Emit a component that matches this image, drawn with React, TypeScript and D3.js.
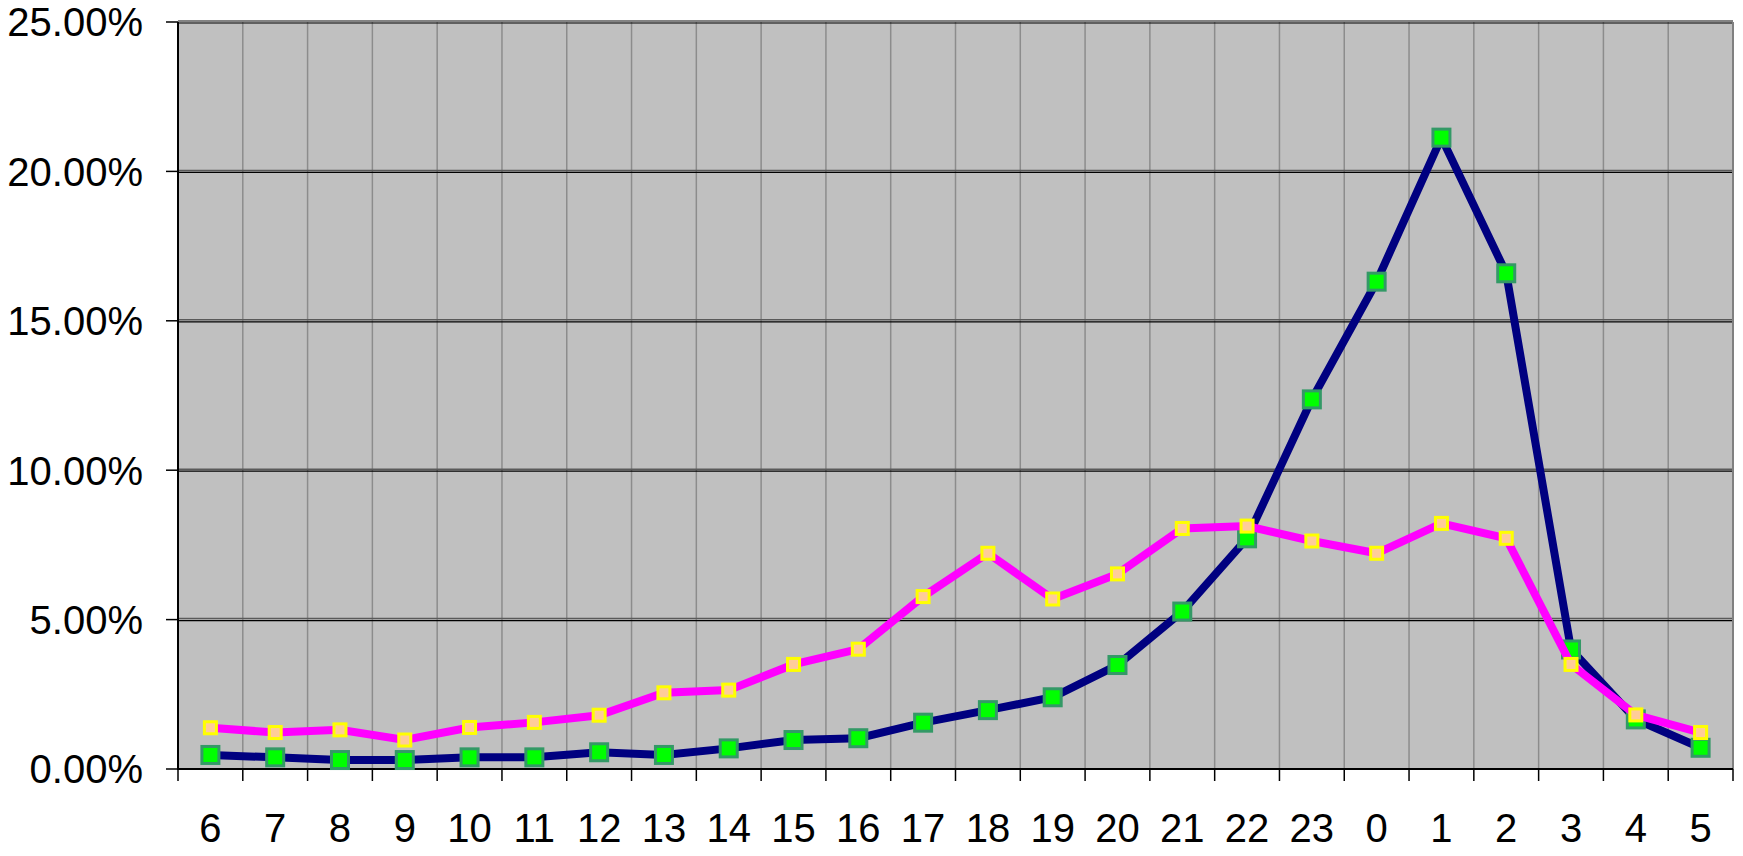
import React from "react";
import * as d3 from "d3";

const hours = ["6","7","8","9","10","11","12","13","14","15","16","17","18","19","20","21","22","23","0","1","2","3","4","5"];
const seriesBlue = [0.47,0.39,0.30,0.30,0.39,0.39,0.56,0.47,0.69,0.97,1.03,1.55,1.97,2.40,3.48,5.27,7.72,12.37,16.31,21.13,16.59,4.00,1.66,0.71];
const seriesPink = [1.38,1.22,1.31,0.97,1.39,1.56,1.80,2.55,2.64,3.50,4.01,5.77,7.22,5.69,6.53,8.05,8.13,7.63,7.22,8.22,7.72,3.50,1.81,1.22];
const yTicks = [0, 5, 10, 15, 20, 25];

const W = 1743, H = 856;
const L = 178, R = 1733, T = 22, B = 769;
const FONT = "'Liberation Sans', Arial, sans-serif";

export default function App() {
  const x = d3.scaleBand<string>().domain(hours).range([L, R]).padding(0);
  const y = d3.scaleLinear().domain([0, 25]).range([B, T]);
  const cx = (h: string) => (x(h) as number) + x.bandwidth() / 2;
  const lineGen = d3.line<number>().x((_, i) => cx(hours[i])).y((d) => y(d));
  const boundaries = hours.map((h) => x(h) as number).concat([R]);

  return (
    <svg width={W} height={H} style={{ position: "absolute", left: 0, top: 0, background: "#fff" }}>
      <rect x={L} y={T} width={R - L} height={B - T} fill="#C0C0C0" />
      {/* vertical gridlines */}
      {boundaries.slice(1, -1).map((bx, i) => (
        <line key={"vg" + i} x1={bx} x2={bx} y1={T} y2={B} stroke="#8c8c8c" strokeWidth={1.5} />
      ))}
      {/* horizontal gridlines */}
      {yTicks.slice(1).map((t) => (
        <g key={"hg" + t}>
          <line x1={L} x2={R} y1={y(t) - 1} y2={y(t) - 1} stroke="#5a5a5a" strokeWidth={1.5} />
          <line x1={L} x2={R} y1={y(t) + 1} y2={y(t) + 1} stroke="#000" strokeWidth={1.2} />
        </g>
      ))}
      {/* right border */}
      <line x1={R} x2={R} y1={T} y2={B} stroke="#808080" strokeWidth={2} />
      {/* axes */}
      <line x1={L} x2={L} y1={T} y2={B} stroke="#000" strokeWidth={2} />
      <line x1={L - 1} x2={R} y1={B} y2={B} stroke="#000" strokeWidth={2} />
      {/* y ticks and labels */}
      {yTicks.map((t) => (
        <g key={"yt" + t}>
          <line x1={L - 12} x2={L} y1={y(t)} y2={y(t)} stroke="#000" strokeWidth={1.5} />
          <text x={143} y={y(t)} dy="0.36em" textAnchor="end" fontFamily={FONT} fontSize={40} fill="#000">
            {t.toFixed(2) + "%"}
          </text>
        </g>
      ))}
      {/* x ticks */}
      {boundaries.map((bx, i) => (
        <line key={"xt" + i} x1={bx} x2={bx} y1={B} y2={B + 12} stroke="#000" strokeWidth={1.5} />
      ))}
      {hours.map((h) => (
        <text key={"xl" + h} x={cx(h)} y={842} textAnchor="middle" fontFamily={FONT} fontSize={40} fill="#000">
          {h}
        </text>
      ))}
      {/* blue series */}
      <path d={lineGen(seriesBlue) || ""} fill="none" stroke="#000080" strokeWidth={8} strokeLinejoin="miter" />
      {seriesBlue.map((v, i) => (
        <rect key={"bm" + i} x={cx(hours[i]) - 8.5} y={y(v) - 8.5} width={17} height={17} fill="#00FF00" stroke="#339966" strokeWidth={3} />
      ))}
      {/* pink series */}
      <path d={lineGen(seriesPink) || ""} fill="none" stroke="#FF00FF" strokeWidth={8} strokeLinejoin="miter" />
      {seriesPink.map((v, i) => (
        <rect key={"pm" + i} x={cx(hours[i]) - 6} y={y(v) - 6} width={12} height={12} fill="#FFCC99" stroke="#FFFF00" strokeWidth={3} />
      ))}
    </svg>
  );
}
